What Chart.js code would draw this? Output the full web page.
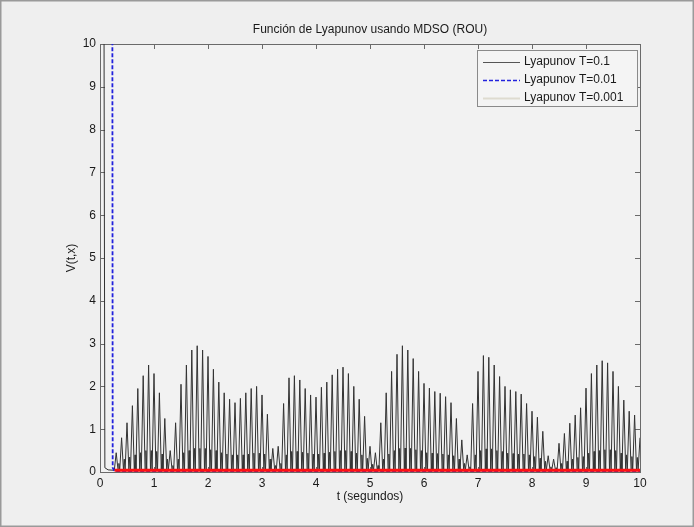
<!DOCTYPE html>
<html>
<head>
<meta charset="utf-8">
<script src="https://cdn.jsdelivr.net/npm/chart.js@4.4.1/dist/chart.umd.min.js"></script>
<style>
  html, body { margin: 0; padding: 0; background: #efefef; }
  #wrap { width: 694px; height: 527px; }
</style>
</head>
<body>
<div id="wrap"><canvas id="c" width="694" height="527"></canvas></div>
<script>
// Axis ticks
const xTicks = [0, 1, 2, 3, 4, 5, 6, 7, 8, 9, 10];
const yTicks = [0, 1, 2, 3, 4, 5, 6, 7, 8, 9, 10];

// T = 0.1: start transient, then one spike every 0.1 s starting at t = 0.3
const leadT = [0, 0.09, 0.15, 0.265];
const leadV = [60, 0.1, 0.05, 0.04];
const spikeStart = 0.3;
const spikeStep = 0.1;
const peaks = [
  0.45, 0.8, 1.15, 1.55, 1.95, 2.25, 2.5, 2.3, 1.85, 1.25,
  0.5, 1.15, 2.05, 2.5, 2.85, 2.95, 2.85, 2.7, 2.4, 2.1,
  1.85, 1.7, 1.62, 1.72, 1.85, 1.95, 2.0, 1.8, 1.35, 0.55,
  0.6, 1.6, 2.2, 2.25, 2.15, 1.95, 1.8, 1.75, 1.98, 2.1,
  2.27, 2.4, 2.45, 2.3, 2.0, 1.7, 1.3, 0.6, 0.45, 1.15,
  1.85, 2.35, 2.75, 2.95, 2.85, 2.65, 2.35, 2.07, 1.96, 1.88,
  1.84, 1.76, 1.62, 1.25, 0.75, 0.4, 1.6, 2.35, 2.72, 2.68,
  2.5, 2.23, 2.0, 1.92, 1.88, 1.82, 1.6, 1.42, 1.28, 0.95,
  0.38, 0.3, 0.67, 0.9, 1.14, 1.33, 1.5, 1.96, 2.3, 2.5,
  2.6, 2.55, 2.35, 2.0, 1.68, 1.42, 1.33, 0.8
];
const humps = [
  0.2, 0.3, 0.35, 0.4, 0.45, 0.5, 0.5, 0.48, 0.42, 0.3,
  0.15, 0.3, 0.45, 0.5, 0.55, 0.55, 0.55, 0.52, 0.5, 0.45,
  0.42, 0.4, 0.4, 0.4, 0.42, 0.44, 0.44, 0.42, 0.3, 0.15,
  0.2, 0.4, 0.48, 0.48, 0.46, 0.44, 0.42, 0.42, 0.44, 0.46,
  0.48, 0.5, 0.5, 0.48, 0.44, 0.4, 0.32, 0.18, 0.15, 0.3,
  0.42, 0.5, 0.55, 0.56, 0.55, 0.52, 0.5, 0.45, 0.44, 0.43,
  0.42, 0.4, 0.38, 0.3, 0.2, 0.12, 0.4, 0.5, 0.54, 0.54,
  0.5, 0.48, 0.44, 0.43, 0.42, 0.42, 0.4, 0.36, 0.32, 0.25,
  0.12, 0.1, 0.2, 0.25, 0.3, 0.34, 0.36, 0.44, 0.48, 0.5,
  0.52, 0.52, 0.5, 0.44, 0.4, 0.36, 0.34, 0.2
];
const trough = 0.04;

// T = 0.01
const blueT = [0, 0.2, 0.235, 0.27, 10];
const blueV = [60, 60, 0.1, 0.02, 0.02];

// T = 0.001
const redT = [0.27, 10];
const redV = [0.04, 0.04];

const seriesNames = ['Lyapunov T=0.1', 'Lyapunov T=0.01', 'Lyapunov T=0.001'];

// Build the T=0.1 curve: each spike rises to its peak, falls, shows a small hump, falls again
const blackPts = leadT.map((t, i) => ({ x: t, y: leadV[i] }));
peaks.forEach((p, i) => {
  const t0 = spikeStart + spikeStep * i;
  blackPts.push({ x: t0, y: p });
  if (i < peaks.length - 1) {
    blackPts.push({ x: t0 + 0.035, y: trough });
    blackPts.push({ x: t0 + 0.05, y: humps[i] });
    blackPts.push({ x: t0 + 0.065, y: trough });
  } else {
    blackPts.push({ x: Math.min(t0 + 0.03, 10), y: trough });
  }
});
const bluePts = blueT.map((t, i) => ({ x: t, y: blueV[i] }));
const redPts = redT.map((t, i) => ({ x: t, y: redV[i] }));

const FONT = '"Liberation Sans", Arial, sans-serif';
const TEXT = '#1a1a1a';
const legendSwatch = [
  { color: '#555555', width: 1, dash: [] },
  { color: '#2222dd', width: 1.6, dash: [4, 2] },
  { color: '#dedbd0', width: 2, dash: [] }
];

const decor = {
  id: 'decor',
  beforeDraw(chart) {
    const ctx = chart.ctx;
    ctx.save();
    ctx.fillStyle = '#efefef';
    ctx.fillRect(0, 0, chart.width, chart.height);
    const a = chart.chartArea;
    ctx.fillStyle = '#f2f2f2';
    ctx.fillRect(a.left, a.top, a.right - a.left, a.bottom - a.top);
    // axes box and inward ticks, under the curves
    const xs = chart.scales.x, ys = chart.scales.y;
    ctx.strokeStyle = '#6a6a6a';
    ctx.lineWidth = 1;
    ctx.strokeRect(Math.round(a.left) + 0.5, Math.round(a.top) + 0.5,
                   Math.round(a.right - a.left), Math.round(a.bottom - a.top));
    ctx.beginPath();
    xTicks.forEach(v => {
      const px = Math.round(xs.getPixelForValue(v)) + 0.5;
      ctx.moveTo(px, a.bottom); ctx.lineTo(px, a.bottom - 5);
      ctx.moveTo(px, a.top); ctx.lineTo(px, a.top + 5);
    });
    yTicks.forEach(v => {
      const py = Math.round(ys.getPixelForValue(v)) + 0.5;
      ctx.moveTo(a.left, py); ctx.lineTo(a.left + 5, py);
      ctx.moveTo(a.right, py); ctx.lineTo(a.right - 5, py);
    });
    ctx.stroke();
    ctx.restore();
  },
  afterDraw(chart) {
    const ctx = chart.ctx;
    const a = chart.chartArea;
    ctx.save();
    // title and axis labels
    ctx.fillStyle = TEXT;
    ctx.font = '12px ' + FONT;
    ctx.textAlign = 'center';
    ctx.textBaseline = 'middle';
    ctx.fillText('Función de Lyapunov usando MDSO (ROU)', (a.left + a.right) / 2, 30);
    ctx.fillText('t (segundos)', (a.left + a.right) / 2, 497);
    ctx.save();
    ctx.translate(72, (a.top + a.bottom) / 2);
    ctx.rotate(-Math.PI / 2);
    ctx.fillText('V(t,x)', 0, 0);
    ctx.restore();

    // legend
    const lx = 477, ly = 50, lw = 160, lh = 56;
    ctx.fillStyle = '#f4f4f4';
    ctx.fillRect(lx, ly, lw, lh);
    ctx.strokeStyle = '#8a8a8a';
    ctx.lineWidth = 1;
    ctx.strokeRect(lx + 0.5, ly + 0.5, lw, lh);
    seriesNames.forEach((name, i) => {
      const y = ly + 12 + i * 18;
      const s = legendSwatch[i];
      ctx.strokeStyle = s.color;
      ctx.lineWidth = s.width;
      ctx.setLineDash(s.dash);
      ctx.beginPath();
      ctx.moveTo(lx + 6, y + 0.5);
      ctx.lineTo(lx + 43, y + 0.5);
      ctx.stroke();
      ctx.setLineDash([]);
      ctx.fillStyle = TEXT;
      ctx.textAlign = 'left';
      ctx.fillText(name, lx + 47, y);
    });

    // outer frame
    ctx.strokeStyle = '#9a9a9a';
    ctx.strokeRect(0.5, 0.5, chart.width - 1, chart.height - 1);
    ctx.restore();
  }
};

new Chart(document.getElementById('c'), {
  type: 'line',
  data: {
    datasets: [
      { label: seriesNames[0], data: blackPts, borderColor: '#333333', borderWidth: 1,
        pointRadius: 0, tension: 0, order: 3 },
      { label: seriesNames[1], data: bluePts, borderColor: '#2222dd', borderWidth: 1.8,
        borderDash: [4, 2], pointRadius: 0, tension: 0, order: 2 },
      { label: seriesNames[2], data: redPts, borderColor: '#ff1010', borderWidth: 3,
        pointRadius: 0, tension: 0, order: 1, clip: 4 }
    ]
  },
  options: {
    responsive: false,
    animation: false,
    parsing: false,
    layout: { padding: { top: 44, right: 54, left: 0, bottom: 0 } },
    plugins: { legend: { display: false }, tooltip: { enabled: false }, title: { display: false } },
    scales: {
      x: {
        type: 'linear', min: 0, max: 10,
        afterFit(s) { s.height = 55; },
        afterBuildTicks(s) { s.ticks = xTicks.map(v => ({ value: v })); },
        ticks: { color: TEXT, font: { size: 12, family: FONT }, padding: 4, maxRotation: 0 },
        grid: { display: false, drawTicks: false },
        border: { display: false }
      },
      y: {
        type: 'linear', min: 0, max: 10,
        afterFit(s) { s.width = 100; },
        afterBuildTicks(s) { s.ticks = yTicks.map(v => ({ value: v })); },
        ticks: { color: TEXT, font: { size: 12, family: FONT }, padding: 4 },
        grid: { display: false, drawTicks: false },
        border: { display: false }
      }
    }
  },
  plugins: [decor]
});
</script>
</body>
</html>
